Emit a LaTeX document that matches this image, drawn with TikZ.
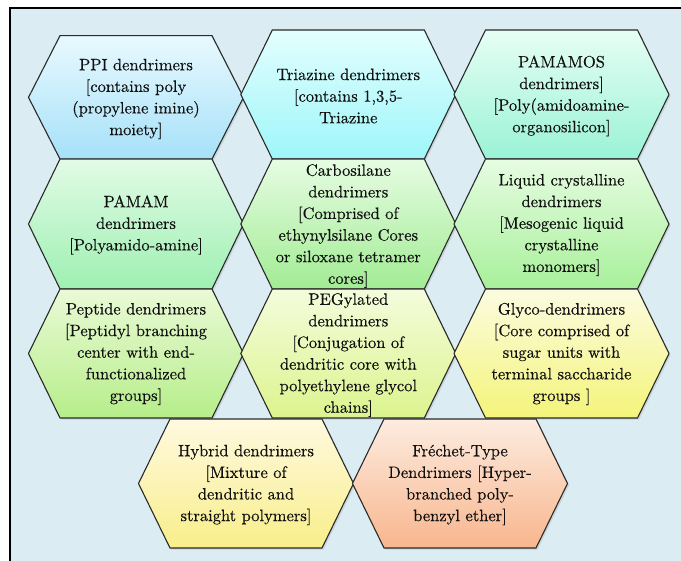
\documentclass[tikz,border=0pt]{standalone}
\usepackage{fontspec}
% slightly emboldened roman face for the cell texts
\newfontfamily\cellfont{lmroman10-regular.otf}[FakeBold=0.35]
\usetikzlibrary{shadows}

\definecolor{panelbg}{HTML}{DBECF2}
\definecolor{hexline}{HTML}{2A2A2A}
\definecolor{txt}{HTML}{101010}
% top / bottom shades of each cell
\definecolor{ppiT}{HTML}{E8F9FE}   \definecolor{ppiB}{HTML}{A6E1F9}
\definecolor{triT}{HTML}{E3FEFE}   \definecolor{triB}{HTML}{9EF6FA}
\definecolor{pmsT}{HTML}{E6FEF4}   \definecolor{pmsB}{HTML}{9AF3D6}
\definecolor{pamT}{HTML}{E2FBE6}   \definecolor{pamB}{HTML}{9EF0B2}
\definecolor{carT}{HTML}{E6FCE2}   \definecolor{carB}{HTML}{A2EC94}
\definecolor{lcdT}{HTML}{E6FCE2}   \definecolor{lcdB}{HTML}{A8F09A}
\definecolor{pepT}{HTML}{EAFAD6}   \definecolor{pepB}{HTML}{B6EE8A}
\definecolor{pegT}{HTML}{F4FCDC}   \definecolor{pegB}{HTML}{DCF48E}
\definecolor{glyT}{HTML}{FBFCE0}   \definecolor{glyB}{HTML}{F4F47A}
\definecolor{hybT}{HTML}{FFF9E0}   \definecolor{hybB}{HTML}{F8EE8A}
\definecolor{freT}{HTML}{FDECE0}   \definecolor{freB}{HTML}{F8B68E}

\tikzset{
  hexcell/.style={draw=hexline, line width=1.1pt, line join=miter,
    drop shadow={shadow xshift=1.6pt, shadow yshift=-1.6pt, opacity=0.22}},
  hextext/.style={align=center, text=txt, inner sep=0pt,
    font=\cellfont\fontsize{16.5}{21.6}\selectfont},
}

% hexagon: #1 centre x, #2 centre y, #3 half height, #4 top colour, #5 bottom colour
\newcommand{\hexshape}[5]{%
  \path[hexcell, top color=#4, bottom color=#5]
    (#1-107.5,#2) -- (#1-76,#2-#3) -- (#1+76,#2-#3) -- (#1+107.5,#2)
    -- (#1+76,#2+#3) -- (#1-76,#2+#3) -- cycle;
}

\begin{document}
\begin{tikzpicture}[x=1pt, y=-1pt]
  \useasboundingbox (0,0) rectangle (681,561);
  % panel
  \fill[panelbg] (10,8) rectangle (681,561);
  \draw[line width=1.4pt, black] (681,8) -- (10,8) -- (10,561);

  % row 1
  \hexshape{136}{97.4}{61.7}{ppiT}{ppiB}
  \hexshape{348.3}{94.5}{64.5}{triT}{triB}
  \hexshape{561.5}{94.5}{64.5}{pmsT}{pmsB}
  % row 2
  \hexshape{136}{224}{65}{pamT}{pamB}
  \hexshape{348.3}{224}{65}{carT}{carB}
  \hexshape{561.5}{224}{65}{lcdT}{lcdB}
  % row 3
  \hexshape{136}{353.5}{64.5}{pepT}{pepB}
  \hexshape{348.3}{353.5}{64.5}{pegT}{pegB}
  \hexshape{561.5}{353.5}{64.5}{glyT}{glyB}
  % row 4
  \hexshape{246}{483.5}{64.5}{hybT}{hybB}
  \hexshape{460}{483.5}{64.5}{freT}{freB}

  % labels
  \node[hextext] (ppi) at (136,99) {PPI dendrimers\\{}[contains poly\\(propylene imine)\\moiety]};
  \node[hextext] (triazine) at (348.3,96) {Triazine dendrimers\\{}[contains 1,3,5-\\Triazine};
  \node[hextext] (pamamos) at (561.5,96) {PAMAMOS\\dendrimers]\\{}[Poly(amidoamine-\\organosilicon]};
  \node[hextext] (pamam) at (136,225) {PAMAM\\dendrimers\\{}[Polyamido-amine]};
  \node[hextext] (carbosilane) at (348.3,226) {Carbosilane\\dendrimers\\{}[Comprised of\\ethynylsilane Cores\\or siloxane tetramer\\cores]};
  \node[hextext] (liquid) at (561.5,225) {Liquid crystalline\\dendrimers\\{}[Mesogenic liquid\\crystalline\\monomers]};
  \node[hextext] (peptide) at (136,354) {Peptide dendrimers\\{}[Peptidyl branching\\center with end-\\functionalized\\groups]};
  \node[hextext] (pegylated) at (348.3,355) {PEGylated\\dendrimers\\{}[Conjugation of\\dendritic core with\\polyethylene glycol\\chains]};
  \node[hextext] (glyco) at (561.5,354) {Glyco-dendrimers\\{}[Core comprised of\\sugar units with\\terminal saccharide\\groups ]};
  \node[hextext] (hybrid) at (246,485) {Hybrid dendrimers\\{}[Mixture of\\dendritic and\\straight polymers]};
  \node[hextext] (frechet) at (460,485) {Fréchet-Type\\Dendrimers [Hyper-\\branched poly-\\benzyl ether]};
\end{tikzpicture}
\end{document}
